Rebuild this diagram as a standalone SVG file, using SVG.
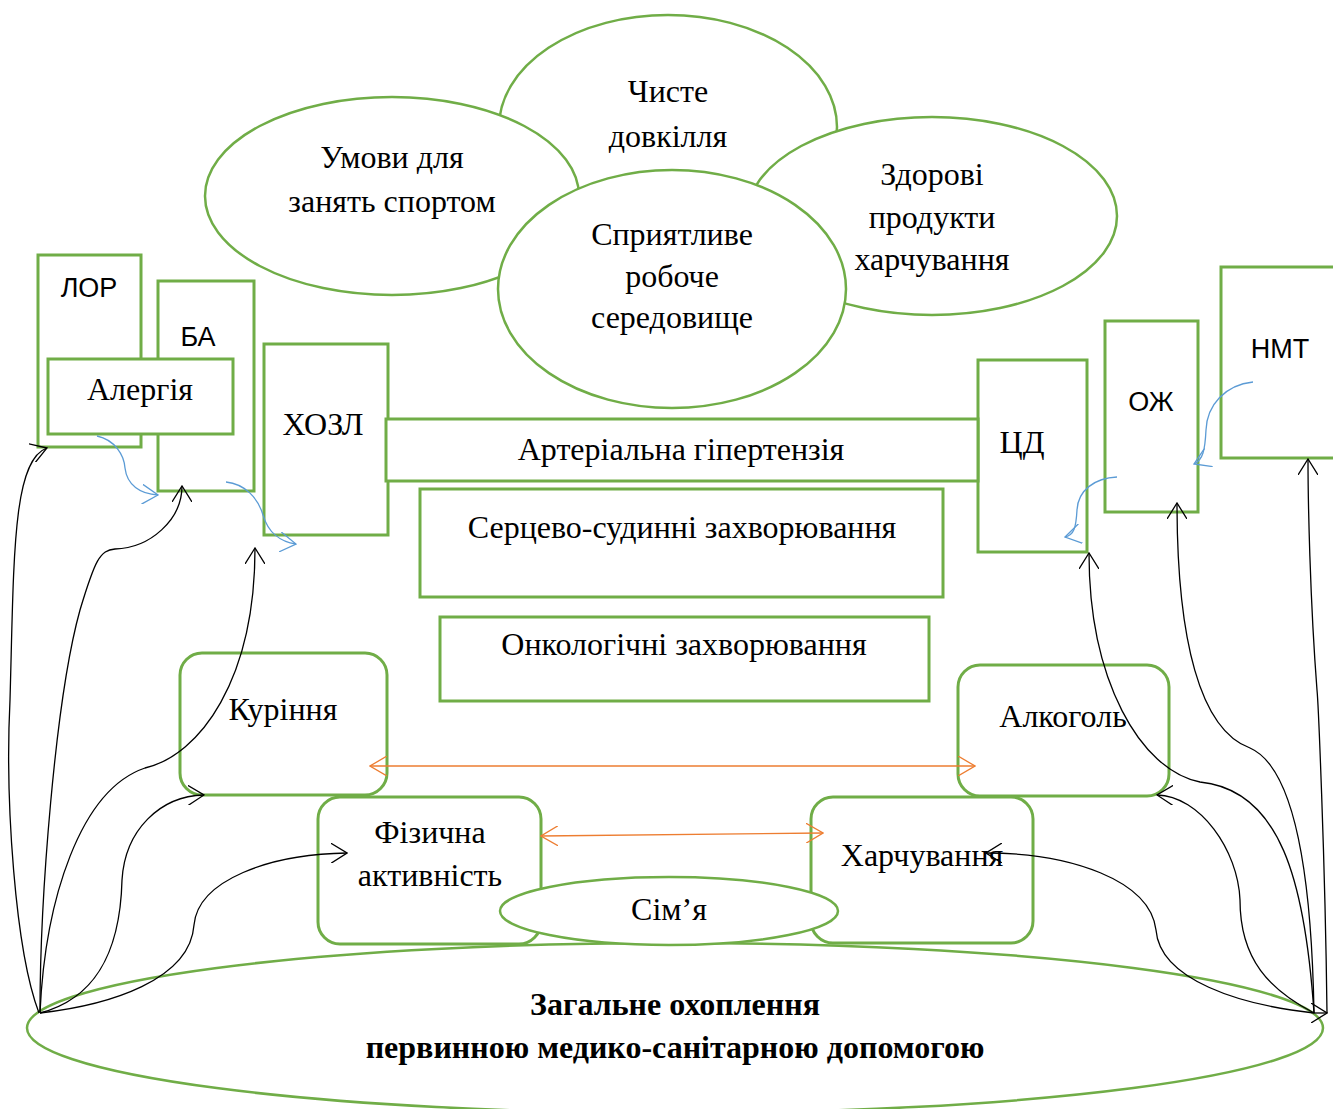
<svg xmlns="http://www.w3.org/2000/svg" width="1333" height="1109" viewBox="0 0 1333 1109">
<style>
.g{fill:#fff;stroke:#70AD47;stroke-width:3}
.e{fill:#fff;stroke:#70AD47;stroke-width:2.5}
.t{font-family:"Liberation Serif","Times New Roman",serif;font-size:32px;fill:#000;text-anchor:middle}
.b{font-weight:bold}
.s{font-family:"Liberation Sans",Arial,sans-serif;font-size:27px;fill:#000;text-anchor:middle}
.k{fill:none;stroke:#000;stroke-width:1.3;marker-end:url(#ak)}
.bl{fill:none;stroke:#5B9BD5;stroke-width:1.3;marker-end:url(#ab)}
.o{fill:none;stroke:#ED7D31;stroke-width:1.3;marker-start:url(#ao);marker-end:url(#ao)}
</style>
<defs>
<marker id="ak" viewBox="0 0 17 20" refX="16" refY="10" markerWidth="17" markerHeight="20" markerUnits="userSpaceOnUse" orient="auto"><path d="M0,0 L16,10 L0,20" fill="none" stroke="#000" stroke-width="1.3"/></marker>
<marker id="ab" viewBox="0 0 17 20" refX="16" refY="10" markerWidth="17" markerHeight="20" markerUnits="userSpaceOnUse" orient="auto"><path d="M0,0 L16,10 L0,20" fill="none" stroke="#5B9BD5" stroke-width="1.3"/></marker>
<marker id="ao" viewBox="0 0 18 20" refX="17" refY="10" markerWidth="18" markerHeight="20" markerUnits="userSpaceOnUse" orient="auto-start-reverse"><path d="M0,0 L17,10 L0,20" fill="none" stroke="#ED7D31" stroke-width="1.3"/></marker>
</defs>
<rect width="1333" height="1109" fill="#fff"/>

<g id="n-chyste"><ellipse class="e" cx="668" cy="127" rx="169" ry="112"/><text class="t" x="668" y="102">Чисте</text><text class="t" x="668" y="147">довкілля</text></g>
<g id="n-umovy"><ellipse class="e" cx="392" cy="196" rx="187" ry="99"/><text class="t" x="392" y="168">Умови для</text><text class="t" x="392" y="212">занять спортом</text></g>
<g id="n-zdorovi"><ellipse class="e" cx="932" cy="216" rx="185" ry="99"/><text class="t" x="932" y="185">Здорові</text><text class="t" x="932" y="228">продукти</text><text class="t" x="932" y="270">харчування</text></g>
<g id="n-spryiatlyve"><ellipse class="e" cx="672" cy="289" rx="174" ry="119"/><text class="t" x="672" y="245">Сприятливе</text><text class="t" x="672" y="287">робоче</text><text class="t" x="672" y="328">середовище</text></g>

<g id="n-lor"><rect class="g" x="38" y="255" width="103" height="192"/><text class="s" x="89" y="297">ЛОР</text></g>
<g id="n-ba"><rect class="g" x="158" y="281" width="96" height="210"/><text class="s" x="198" y="346">БА</text></g>
<g id="n-alergiia"><rect class="g" x="48" y="359" width="185" height="75"/><text class="t" x="140" y="400">Алергія</text></g>
<g id="n-khozl"><rect class="g" x="264" y="344" width="124" height="191"/><text class="t" x="323" y="435">ХОЗЛ</text></g>
<g id="n-tsd"><rect class="g" x="978" y="360" width="109" height="192"/><text class="t" x="1022" y="453">ЦД</text></g>
<g id="n-ag"><rect class="g" x="386" y="419" width="592" height="62"/><text class="t" x="681" y="460">Артеріальна гіпертензія</text></g>
<g id="n-ozh"><rect class="g" x="1105" y="321" width="93" height="191"/><text class="s" x="1151" y="411">ОЖ</text></g>
<g id="n-nmt"><rect class="g" x="1221" y="267" width="120" height="191"/><text class="s" x="1280" y="358">НМТ</text></g>
<g id="n-ssz"><rect class="g" x="420" y="489" width="523" height="108"/><text class="t" x="682" y="538">Серцево-судинні захворювання</text></g>
<g id="n-onko"><rect class="g" x="440" y="617" width="489" height="84"/><text class="t" x="684" y="655">Онкологічні захворювання</text></g>

<g id="n-zahalne"><ellipse class="e" cx="675" cy="1028" rx="648" ry="85"/><text class="t b" x="675" y="1015">Загальне охоплення</text><text class="t b" x="675" y="1058">первинною медико-санітарною допомогою</text></g>
<g id="n-kurinnia"><rect class="g" x="180" y="653" width="207" height="142" rx="22"/><text class="t" x="283" y="720">Куріння</text></g>
<g id="n-alkohol"><rect class="g" x="958" y="665" width="211" height="131" rx="22"/><text class="t" x="1063" y="727">Алкоголь</text></g>
<g id="n-fizychna"><rect class="g" x="318" y="797" width="223" height="147" rx="22"/><text class="t" x="430" y="843">Фізична</text><text class="t" x="430" y="886">активність</text></g>
<g id="n-kharchuvannia"><rect class="g" x="811" y="797" width="222" height="146" rx="22"/><text class="t" x="922" y="866">Харчування</text></g>
<g id="n-simia"><ellipse class="e" cx="669" cy="911" rx="169" ry="34"/><text class="t" x="669" y="920">Сім’я</text></g>

<g id="connectors">
<path class="bl" d="M97,436 C115,440 124,455 125,468 C127,485 140,494 158,495"/>
<path class="bl" d="M226,482 C245,484 258,498 263,515 C268,532 280,542 296,544"/>
<path class="bl" d="M1117,477 C1095,478 1078,490 1077,510 C1076,528 1074,535 1065,537"/>
<path class="bl" d="M1253,382 C1225,385 1207,405 1206,430 C1205,450 1203,460 1194,464"/>
<path class="o" d="M370,766 L975,766"/>
<path class="o" d="M541,836 L823,833"/>
<path class="k" d="M39,1013 C15,950 5,800 10,700 C14,560 12,460 47,448"/>
<path class="k" d="M40,1012 C40,900 55,700 80,610 C95,560 100,550 115,549 C150,548 182,520 182,486"/>
<path class="k" d="M40,1013 C90,1000 120,960 122,880 C125,830 160,796 204,795"/>
<path class="k" d="M40,1013 C110,1005 190,980 194,925 C198,880 270,854 347,853"/>
<path class="k" d="M40,1013 C45,900 80,790 145,768 C200,755 255,680 255,548"/>
<path class="k" d="M1314,1013 L1327,1013"/>
<path class="k" d="M1327,1013 C1325,850 1318,700 1317,690 C1310,600 1308,500 1308,459"/>
<path class="k" d="M1314,1013 C1312,900 1300,770 1250,748 C1200,730 1177,640 1177,503"/>
<path class="k" d="M1314,1013 C1305,880 1280,790 1200,782 C1140,770 1089,680 1089,553"/>
<path class="k" d="M1314,1013 C1270,990 1240,960 1240,900 C1238,850 1200,796 1157,795"/>
<path class="k" d="M1314,1013 C1240,1005 1160,980 1156,930 C1150,880 1070,853 986,853"/>
</g>
</svg>
